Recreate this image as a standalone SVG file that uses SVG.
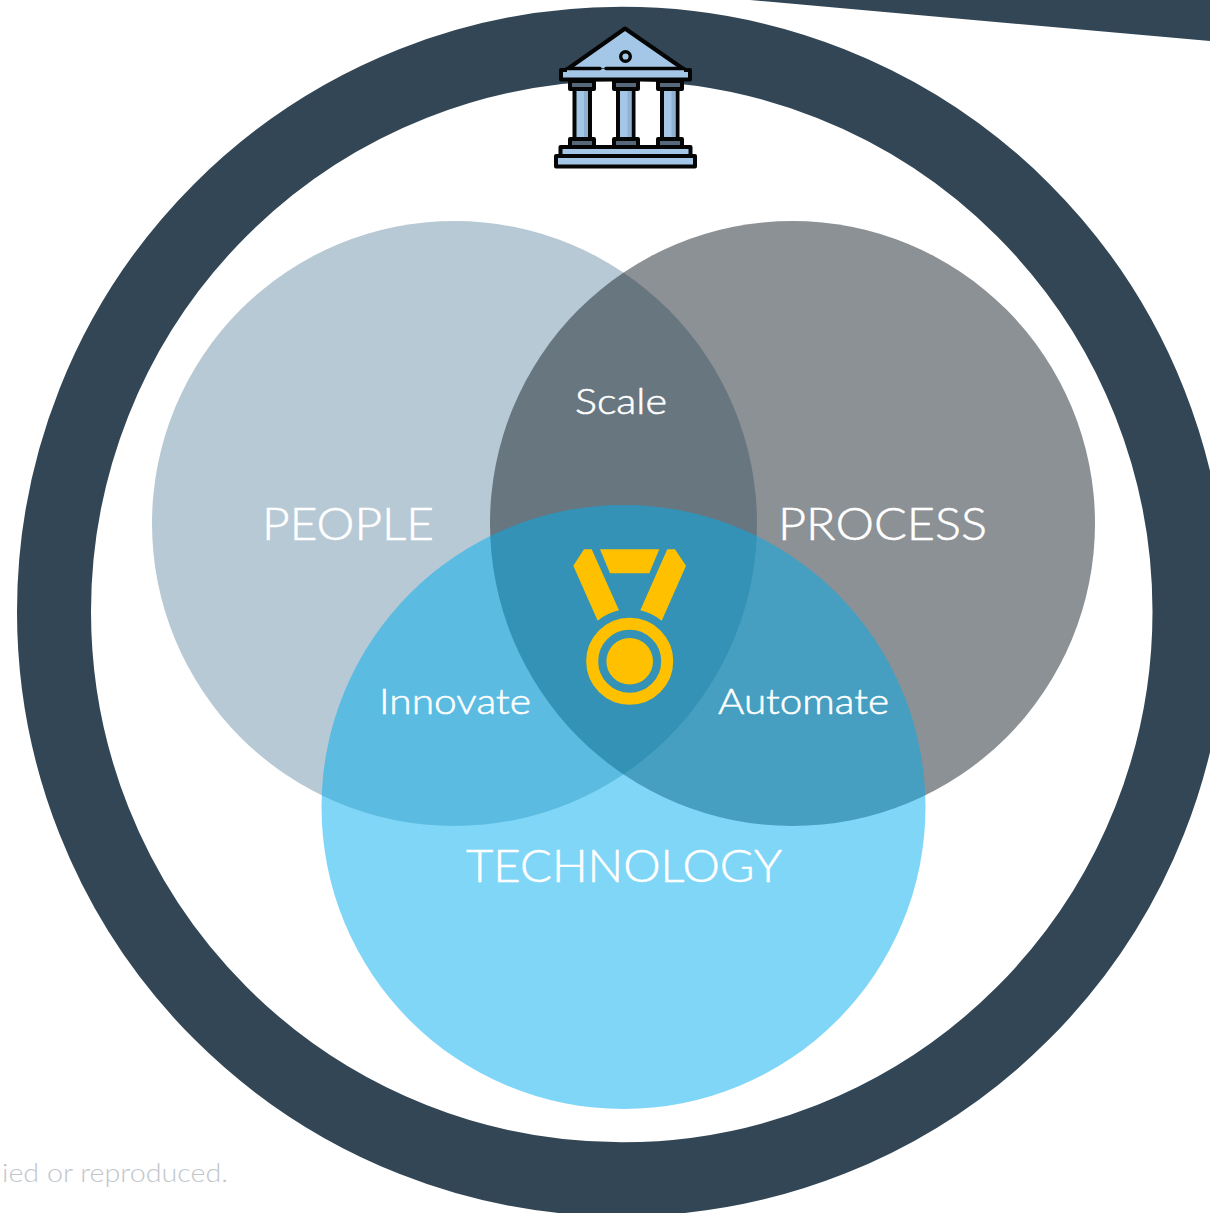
<svg xmlns="http://www.w3.org/2000/svg" width="1210" height="1213" viewBox="0 0 1210 1213">
<style>
.lbl{font-family:"Lato","Liberation Sans",sans-serif;font-weight:300;fill:#fff;stroke:#fff;stroke-width:.55;stroke-linejoin:round}
.big{font-size:46px}
.mid{font-size:35.500px}
.note{font-family:"Lato","Liberation Sans",sans-serif;font-weight:300;font-size:26px;fill:#bfc6cb}
.ink{stroke:#050505;stroke-width:4;stroke-linejoin:round;fill:#a4c7e8}
.dk{stroke:#050505;stroke-width:4;stroke-linejoin:round;fill:#56687a}
.shade{fill:#8fb2d2}
.medal{fill:#ffc000}
</style>
<rect width="1210" height="1213" fill="#fff"/>
<polygon id="band" points="750,0 1210,41 1210,0" fill="#324655"/>
<circle id="ring" cx="621.750" cy="611.500" r="567.750" fill="none" stroke="#324655" stroke-width="74"/>
<g id="people"><circle cx="454.500" cy="523.500" r="302.500" fill="#6f93ab" fill-opacity=".5"/><text class="lbl big" x="262" y="540" textLength="172" lengthAdjust="spacingAndGlyphs">PEOPLE</text></g>
<g id="process"><circle cx="792.500" cy="523.500" r="302.500" fill="#19232b" fill-opacity=".5"/><text class="lbl big" x="778" y="540" textLength="209" lengthAdjust="spacingAndGlyphs">PROCESS</text></g>
<g id="technology"><circle cx="623.500" cy="807" r="302" fill="#00adee" fill-opacity=".5"/><text class="lbl big" x="466" y="882" textLength="316" lengthAdjust="spacingAndGlyphs">TECHNOLOGY</text></g>
<g id="scale"><text class="lbl mid" x="575" y="414" textLength="92" lengthAdjust="spacingAndGlyphs">Scale</text></g>
<g id="innovate"><text class="lbl mid" x="379" y="713.500" textLength="152" lengthAdjust="spacingAndGlyphs">Innovate</text></g>
<g id="automate"><text class="lbl mid" x="718" y="713.500" textLength="171" lengthAdjust="spacingAndGlyphs">Automate</text></g>
<g id="building">
<path d="M625 28.500L567 68H684Z" fill="#a4c7e8"/>
<path d="M569 68L625 28.500L682 68" fill="none" stroke="#050505" stroke-width="4" stroke-linejoin="round" stroke-linecap="round"/>
<circle cx="625.500" cy="56.500" r="4.800" fill="#a4c7e8" stroke="#050505" stroke-width="3.400"/>
<rect x="561" y="69" width="129" height="11" fill="#a4c7e8"/>
<path d="M567 68.500H600M606 68.500H684" fill="none" stroke="#050505" stroke-width="3.400" stroke-linecap="round"/>
<path d="M567 70H561V79.500H690V70H684" fill="none" stroke="#050505" stroke-width="4" stroke-linejoin="round"/>
<rect class="ink" x="574.500" y="89" width="15.500" height="50"/>
<rect class="ink" x="618" y="89" width="15.500" height="50"/>
<rect class="ink" x="662" y="89" width="15.500" height="50"/>
<rect class="shade" x="584" y="91" width="4" height="46"/>
<rect class="shade" x="627.500" y="91" width="4" height="46"/>
<rect class="shade" x="671.500" y="91" width="4" height="46"/>
<rect class="dk" x="570" y="81" width="24" height="8"/>
<rect class="dk" x="614" y="81" width="24" height="8"/>
<rect class="dk" x="658" y="81" width="24" height="8"/>
<rect class="dk" x="570" y="139" width="24" height="8"/>
<rect class="dk" x="614" y="139" width="24" height="8"/>
<rect class="dk" x="658" y="139" width="24" height="8"/>
<rect class="ink" x="560.500" y="147" width="130" height="9"/>
<rect class="ink" x="556" y="156" width="139" height="10.500"/>
</g>
<g id="medal">
<polygon class="medal" points="600,549.300 659.300,549.300 649.300,573.300 610,573.300"/>
<path class="medal" d="M584 549.300H591.700L619 610.300Q607 613 597.700 620.700L573.300 565.700Z"/>
<path class="medal" d="M667.300 549.300H675L686 565.700L661.700 620.700Q652 613 640.300 610.300Z"/>
<circle cx="629.700" cy="661.300" r="37.500" fill="none" stroke="#ffc000" stroke-width="12"/>
<circle class="medal" cx="629.700" cy="661.300" r="23.300"/>
</g>
<text id="note" class="note" x="2" y="1182" textLength="226" lengthAdjust="spacingAndGlyphs">ied or reproduced.</text>
<g id="connectors"/>
</svg>
